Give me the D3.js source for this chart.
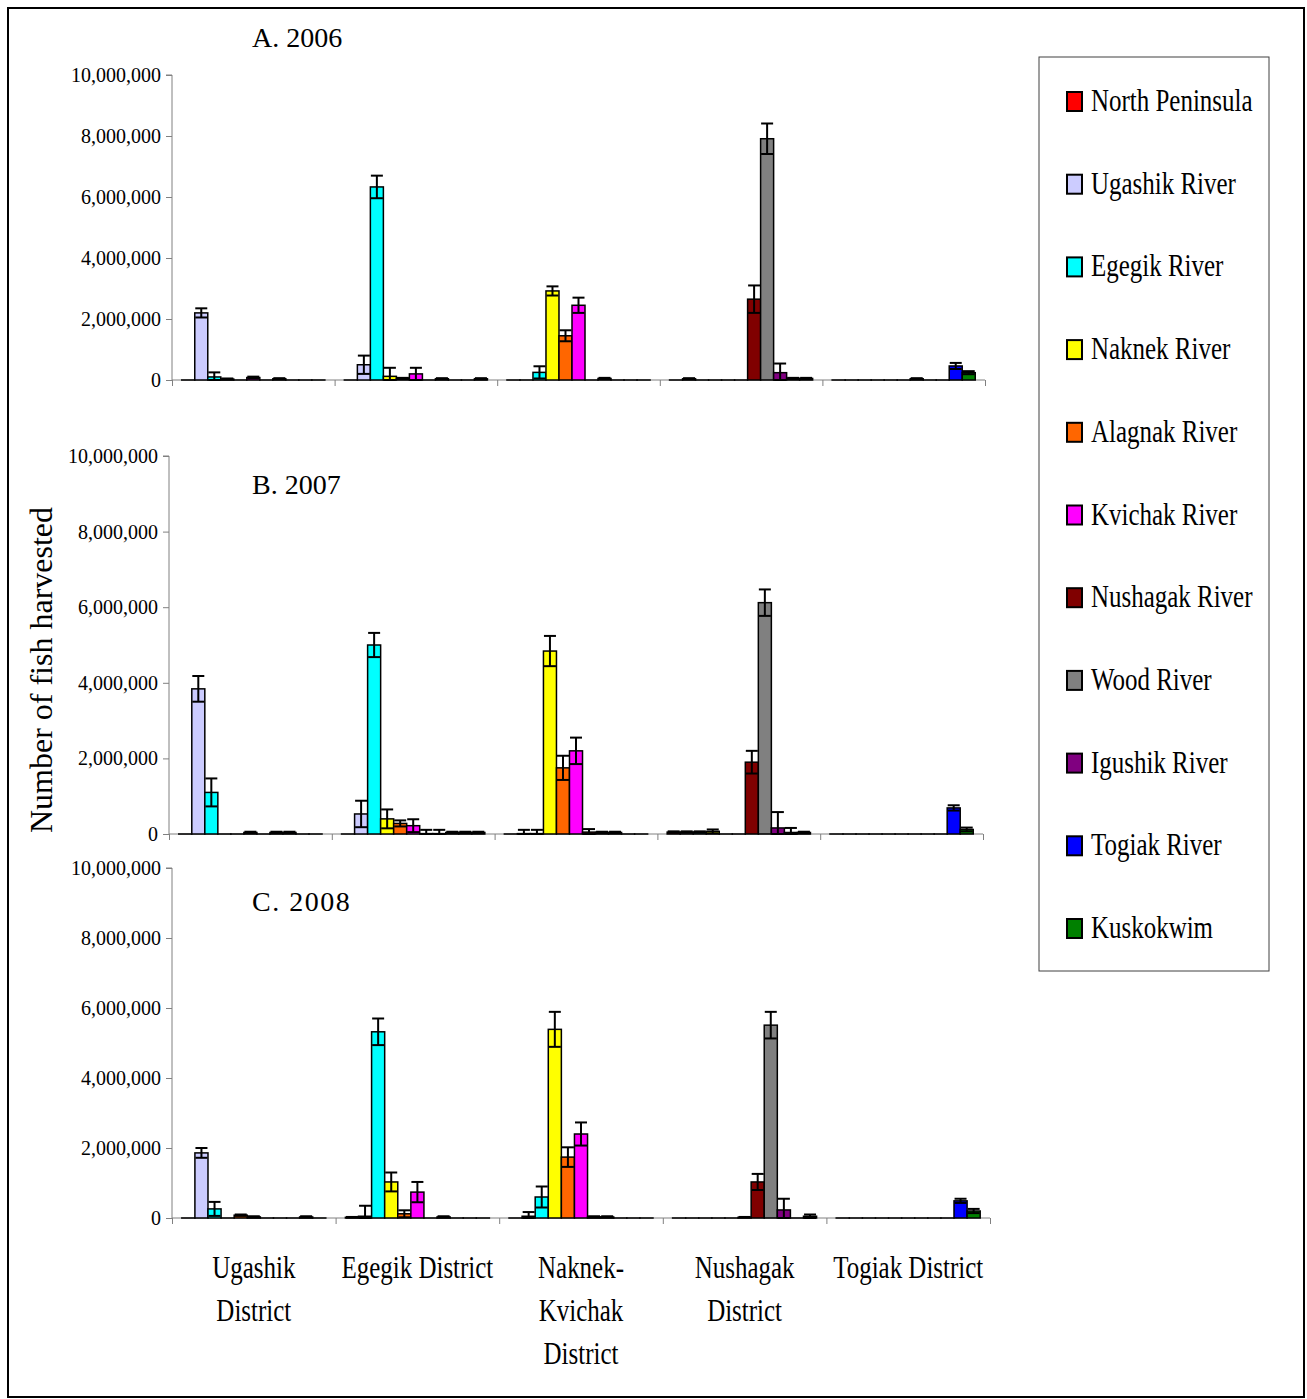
<!DOCTYPE html>
<html>
<head>
<meta charset="utf-8">
<script src="https://cdn.jsdelivr.net/npm/d3@7"></script>
<style>
  body { margin: 0; background: #fff; }
  text { font-family: "Liberation Serif", "Times New Roman", serif; }
</style>
</head>
<body>
<svg id="chart" width="1307" height="1399"></svg>
<script>
// values in millions of fish, one row per district, one column per stock
const districts = ["Ugashik", "Egegik", "Naknek-Kvichak", "Nushagak", "Togiak"];
const districtLabels = [["Ugashik", "District"], ["Egegik District"], ["Naknek-", "Kvichak", "District"], ["Nushagak", "District"], ["Togiak District"]];
const stocks = ["North Peninsula", "Ugashik River", "Egegik River", "Naknek River", "Alagnak River", "Kvichak River", "Nushagak River", "Wood River", "Igushik River", "Togiak River", "Kuskokwim"];
const stockColors = ["#ff0000", "#ccccff", "#00ffff", "#ffff00", "#ff6600", "#ff00ff", "#800000", "#808080", "#800080", "#0000ff", "#008000"];
const yTicks = [0, 2, 4, 6, 8, 10];

const harvest2006 = [
  [0, 2.2, 0.1, 0.03, 0, 0.08, 0, 0.04, 0, 0, 0],
  [0, 0.5, 6.33, 0.12, 0.05, 0.2, 0, 0.04, 0, 0, 0.04],
  [0, 0, 0.25, 2.92, 1.45, 2.45, 0, 0.05, 0, 0, 0],
  [0, 0.04, 0, 0, 0, 0, 2.65, 7.91, 0.24, 0.05, 0.05],
  [0, 0, 0, 0, 0, 0, 0.04, 0, 0, 0.46, 0.24]
];
const error2006 = [
  [0, 0.15, 0.15, 0.02, 0, 0.03, 0, 0.02, 0, 0, 0],
  [0, 0.3, 0.37, 0.28, 0.02, 0.2, 0, 0.02, 0, 0, 0.02],
  [0, 0, 0.2, 0.15, 0.18, 0.25, 0, 0.02, 0, 0, 0],
  [0, 0.02, 0, 0, 0, 0, 0.45, 0.5, 0.3, 0.02, 0.02],
  [0, 0, 0, 0, 0, 0, 0.02, 0, 0, 0.1, 0.05]
];

const harvest2007 = [
  [0, 3.84, 1.1, 0, 0, 0.04, 0, 0.04, 0.04, 0, 0],
  [0, 0.53, 5.0, 0.4, 0.28, 0.22, 0.01, 0.01, 0.04, 0.04, 0.04],
  [0, 0.01, 0.01, 4.84, 1.75, 2.2, 0.05, 0.04, 0.04, 0, 0],
  [0.05, 0.05, 0.05, 0.07, 0, 0, 1.9, 6.12, 0.16, 0.04, 0.04],
  [0, 0, 0, 0, 0, 0, 0, 0, 0, 0.69, 0.12]
];
const error2007 = [
  [0, 0.34, 0.37, 0, 0, 0.02, 0, 0.02, 0.02, 0, 0],
  [0, 0.35, 0.32, 0.25, 0.08, 0.17, 0.1, 0.1, 0.02, 0.02, 0.02],
  [0, 0.1, 0.1, 0.4, 0.32, 0.35, 0.08, 0.02, 0.02, 0, 0],
  [0.02, 0.02, 0.02, 0.05, 0, 0, 0.3, 0.35, 0.42, 0.12, 0.02],
  [0, 0, 0, 0, 0, 0, 0, 0, 0, 0.07, 0.05]
];

const harvest2008 = [
  [0, 1.86, 0.26, 0, 0.08, 0.03, 0, 0, 0, 0.03, 0],
  [0.02, 0.05, 5.32, 1.03, 0.12, 0.74, 0, 0.03, 0, 0, 0],
  [0, 0.05, 0.6, 5.39, 1.74, 2.4, 0.03, 0.03, 0, 0, 0],
  [0, 0, 0, 0, 0, 0.02, 1.03, 5.51, 0.23, 0, 0.05],
  [0, 0, 0, 0, 0, 0, 0, 0, 0, 0.49, 0.2]
];
const error2008 = [
  [0, 0.14, 0.2, 0, 0.02, 0.02, 0, 0, 0, 0.02, 0],
  [0.01, 0.3, 0.38, 0.27, 0.1, 0.29, 0, 0.02, 0, 0, 0],
  [0, 0.12, 0.3, 0.5, 0.28, 0.33, 0.02, 0.02, 0, 0, 0],
  [0, 0, 0, 0, 0, 0.01, 0.23, 0.38, 0.32, 0, 0.05],
  [0, 0, 0, 0, 0, 0, 0, 0, 0, 0.06, 0.06]
];

const panels = [
  { title: "A. 2006", values: harvest2006, errors: error2006, left: 172, right: 985, top: 75, bottom: 380, spacing: 0 },
  { title: "B. 2007", values: harvest2007, errors: error2007, left: 169, right: 983, top: 456, bottom: 834, spacing: 0 },
  { title: "C. 2008", values: harvest2008, errors: error2008, left: 172, right: 990, top: 868, bottom: 1218, spacing: 1.5 }
];
const titleY = [47, 494, 911];

const svg = d3.select("#chart");

svg.append("rect")
  .attr("x", 8).attr("y", 8)
  .attr("width", 1296).attr("height", 1389)
  .attr("fill", "none").attr("stroke", "#000").attr("stroke-width", 2);

const fmt = d3.format(",");

panels.forEach(function (p, pi) {
  const g = svg.append("g");

  const x0 = d3.scaleBand().domain(districts).range([p.left, p.right]);
  const pad = x0.bandwidth() * 0.75 / 12.5;
  const x1 = d3.scaleBand().domain(stocks).range([pad, x0.bandwidth() - pad]);
  const y = d3.scaleLinear().domain([0, 10]).range([p.bottom, p.top]);
  const xb = d3.scaleLinear().domain([0, districts.length]).range([p.left, p.right]);

  // y axis
  const ya = g.append("g")
    .attr("transform", `translate(${p.left},0)`)
    .call(d3.axisLeft(y).tickValues(yTicks).tickSize(6).tickPadding(5)
      .tickFormat(d => fmt(d * 1e6)));
  ya.selectAll("path, line").attr("stroke", "#808080");
  ya.select(".domain").attr("d", `M-6,${p.top}H0V${p.bottom}`);
  ya.selectAll("text").attr("font-size", 20).attr("fill", "#000")
    .style("font-family", '"Liberation Serif", serif');

  // x axis
  const xa = g.append("g")
    .attr("transform", `translate(0,${p.bottom})`)
    .call(d3.axisBottom(xb).tickValues(d3.range(districts.length + 1)).tickSize(6).tickFormat(""));
  xa.selectAll("path, line").attr("stroke", "#808080");
  xa.select(".domain").attr("d", `M${p.left},0H${p.right}`);

  // bars
  const groups = g.selectAll(".district")
    .data(p.values)
    .join("g")
    .attr("transform", (d, i) => `translate(${x0(districts[i])},0)`);

  groups.selectAll("rect")
    .data(d => d)
    .join("rect")
    .attr("x", (d, i) => x1(stocks[i]))
    .attr("width", x1.bandwidth())
    .attr("y", d => y(d))
    .attr("height", d => Math.max(y(0) - y(d), 0.01))
    .attr("fill", (d, i) => stockColors[i])
    .attr("stroke", "#000")
    .attr("stroke-width", 1.5);

  // error bars
  groups.each(function (row, di) {
    const eg = d3.select(this);
    row.forEach(function (v, si) {
      const e = p.errors[di][si];
      if (!e) return;
      const cx = x1(stocks[si]) + x1.bandwidth() / 2;
      const lo = Math.max(v - e, 0);
      const hi = v + e;
      eg.append("line")
        .attr("x1", cx).attr("x2", cx)
        .attr("y1", y(lo)).attr("y2", y(hi))
        .attr("stroke", "#000").attr("stroke-width", 2);
      [lo, hi].forEach(function (c) {
        eg.append("line")
          .attr("x1", cx - 6).attr("x2", cx + 6)
          .attr("y1", y(c)).attr("y2", y(c))
          .attr("stroke", "#000").attr("stroke-width", 2);
      });
    });
  });

  g.append("text")
    .attr("x", 252).attr("y", titleY[pi])
    .attr("font-size", 28)
    .attr("letter-spacing", p.spacing)
    .text(p.title);

  if (pi == panels.length - 1) {
    districtLabels.forEach(function (lines, i) {
      const cx = x0(districts[i]) + x0.bandwidth() / 2;
      lines.forEach(function (line, li) {
        g.append("text")
          .attr("transform", `translate(${cx},${1278 + li * 43}) scale(0.78,1)`)
          .attr("text-anchor", "middle")
          .attr("font-size", 32)
          .text(line);
      });
    });
  }
});

// y axis title
svg.append("text")
  .attr("transform", "translate(52,670) rotate(-90)")
  .attr("text-anchor", "middle")
  .attr("font-size", 32)
  .text("Number of fish harvested");

// legend
const legend = svg.append("g");
legend.append("rect")
  .attr("x", 1039).attr("y", 57)
  .attr("width", 230).attr("height", 914)
  .attr("fill", "#fff").attr("stroke", "#404040").attr("stroke-width", 1);

const items = legend.selectAll(".item")
  .data(stocks)
  .join("g")
  .attr("transform", (d, i) => `translate(1067,${111 + i * 82.7})`);

items.append("rect")
  .attr("x", 0).attr("y", -19)
  .attr("width", 15).attr("height", 19)
  .attr("fill", (d, i) => stockColors[i])
  .attr("stroke", "#000").attr("stroke-width", 2);

items.append("text")
  .attr("transform", "translate(24,0) scale(0.78,1)")
  .attr("font-size", 32)
  .text(d => d);
</script>
</body>
</html>
